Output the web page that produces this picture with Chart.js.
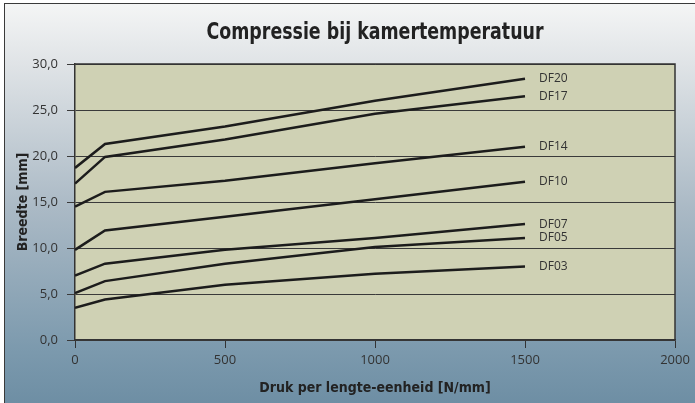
<!DOCTYPE html>
<html>
<head>
<meta charset="utf-8">
<script src="https://cdn.jsdelivr.net/npm/chart.js@4"></script>
<style>
  body { margin: 0; background: #fff; overflow: hidden; }
  #frame {
    position: absolute; left: 4px; top: 3px; width: 700px; height: 410px;
    border-left: 1.5px solid #3a3a3a; border-top: 1.5px solid #3a3a3a;
    background: linear-gradient(to bottom, #f4f5f5 0%, #dfe3e6 15%, #aab9c5 50%, #7b99ad 85%, #6b8ca2 100%);
  }
  #compressie { position: absolute; left: 0; top: 0; }
</style>
</head>
<body>
<div id="frame"></div>
<canvas id="compressie" width="695" height="403"></canvas>
<script>
// druk (N/mm) waar gemeten is
const druk = [0, 100, 500, 1000, 1500];

// breedte in mm per type
const df20 = [18.7, 21.3, 23.2, 26.0, 28.4];
const df17 = [17.0, 19.9, 21.8, 24.6, 26.5];
const df14 = [14.5, 16.1, 17.3, 19.2, 21.0];
const df10 = [9.8, 11.9, 13.4, 15.3, 17.2];
const df07 = [7.0, 8.3, 9.8, 11.1, 12.6];
const df05 = [5.1, 6.4, 8.3, 10.1, 11.1];
const df03 = [3.5, 4.4, 6.0, 7.2, 8.0];

const namen = ["DF20", "DF17", "DF14", "DF10", "DF07", "DF05", "DF03"];
const reeksen = [df20, df17, df14, df10, df07, df05, df03];

const titel = "Compressie bij kamertemperatuur";
const smal = "'DejaVu Sans Condensed', 'Liberation Sans Narrow', sans-serif";

function maakDataset(naam, waarden) {
  return {
    label: naam,
    data: waarden.map((v, i) => ({ x: druk[i], y: v })),
    borderColor: "#1c1c1c",
    borderWidth: 2.5,
    pointRadius: 0,
    tension: 0,
    fill: false,
  };
}

// achtergrond van het plotvlak, rand rechts/boven en de titel
const plotVlak = {
  id: "plotVlak",
  beforeDraw(chart) {
    const { ctx, chartArea: a } = chart;
    ctx.save();
    ctx.fillStyle = "#cfd1b4";
    ctx.fillRect(a.left, a.top, a.right - a.left, a.bottom - a.top);
    ctx.restore();
  },
  afterDraw(chart) {
    const { ctx, chartArea: a } = chart;
    ctx.save();
    ctx.strokeStyle = "#333";
    ctx.lineWidth = 1.5;
    ctx.beginPath();
    ctx.moveTo(a.left, a.top);
    ctx.lineTo(a.right, a.top);
    ctx.lineTo(a.right, a.bottom);
    ctx.stroke();

    // titel: smal en hoog, zoals het origineel
    ctx.font = "bold 23px " + smal;
    const w = ctx.measureText(titel).width;
    const sx = Math.min(1, 337 / w);
    ctx.translate((a.left + a.right) / 2, 39);
    ctx.scale(sx, 1);
    ctx.fillStyle = "#222";
    ctx.textAlign = "center";
    ctx.textBaseline = "alphabetic";
    ctx.fillText(titel, 0, 0);
    ctx.restore();
  },
};

// naam aan het eind van elke lijn
const eindLabels = {
  id: "eindLabels",
  afterDatasetsDraw(chart) {
    const ctx = chart.ctx;
    ctx.save();
    ctx.font = "12px 'Open Sans'";
    ctx.fillStyle = "#333";
    ctx.textBaseline = "middle";
    ctx.textAlign = "left";
    chart.data.datasets.forEach((ds, i) => {
      const meta = chart.getDatasetMeta(i);
      const p = meta.data[meta.data.length - 1];
      ctx.fillText(ds.label, p.x + 14, p.y);
    });
    ctx.restore();
  },
};

new Chart(document.getElementById("compressie"), {
  type: "line",
  data: {
    datasets: namen.map((n, i) => maakDataset(n, reeksen[i])),
  },
  options: {
    responsive: false,
    animation: false,
    devicePixelRatio: 1,
    layout: { padding: { left: 0, right: 20, top: 64, bottom: 0 } },
    plugins: {
      legend: { display: false },
      tooltip: { enabled: false },
      title: { display: false },
    },
    scales: {
      x: {
        type: "linear",
        min: 0,
        max: 2000,
        afterFit: (s) => { s.height = 63; },
        ticks: {
          stepSize: 500,
          color: "#333",
          padding: 4,
          font: { family: "'Open Sans'", size: 13 },
          callback: (v) => String(v),
        },
        grid: { drawOnChartArea: false, drawTicks: true, tickLength: 8, color: "#333" },
        border: { display: true, color: "#333", width: 1.5 },
        title: {
          display: true,
          text: "Druk per lengte-eenheid [N/mm]",
          color: "#222",
          font: { family: smal, size: 14, weight: "bold" },
          padding: { top: 0, bottom: 6.5 },
        },
      },
      y: {
        min: 0,
        max: 30,
        afterFit: (s) => { s.width = 75; },
        ticks: {
          stepSize: 5,
          color: "#333",
          padding: 9,
          font: { family: "'Open Sans'", size: 13 },
          callback: (v) => v.toFixed(1).replace(".", ","),
        },
        grid: { color: "#3a3a3a", lineWidth: 1, tickLength: 8 },
        border: { display: true, color: "#333", width: 1.5 },
        title: {
          display: true,
          text: "Breedte [mm]",
          color: "#222",
          font: { family: smal, size: 14, weight: "bold" },
          padding: { top: 15, bottom: 0 },
        },
      },
    },
  },
  plugins: [plotVlak, eindLabels],
});
</script>
</body>
</html>
